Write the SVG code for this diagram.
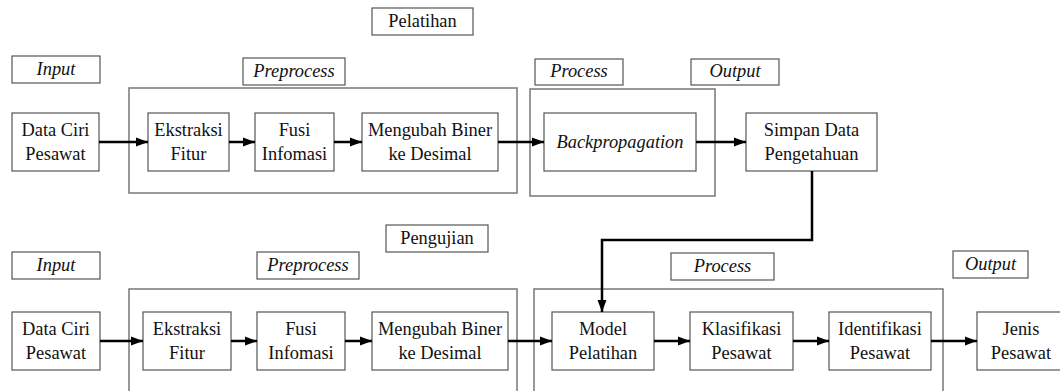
<svg xmlns="http://www.w3.org/2000/svg" width="1060" height="391" viewBox="0 0 1060 391">
<style>
.t{font-family:'Liberation Serif','Times New Roman',serif;font-size:18.4px;fill:#111;text-anchor:middle}
.it{font-style:italic}
.box{fill:#fff;stroke:#555;stroke-width:1.2}
.lab{fill:#fff;stroke:#555;stroke-width:1.2}
.cont{fill:none;stroke:#777;stroke-width:1.5}
.con{fill:none;stroke:#000;stroke-width:2.5}
</style>
<defs>
<marker id="ah" markerUnits="userSpaceOnUse" markerWidth="12" markerHeight="12" viewBox="0 0 12 12" refX="12" refY="6" orient="auto">
<path d="M0,1.5 L12,6 L0,10.5 Z" fill="#000"/>
</marker>
</defs>
<rect width="1060" height="391" fill="#fff"/>

<g id="containers">
<rect id="top-pre-cont" class="cont" x="129" y="88" width="388" height="105"/>
<rect id="top-proc-cont" class="cont" x="530" y="89" width="185" height="107"/>
<rect id="bot-pre-cont" class="cont" x="129" y="289" width="388" height="110"/>
<rect id="bot-proc-cont" class="cont" x="534" y="289" width="409" height="110"/>
</g>

<g id="all" font-family="Liberation Serif, serif" font-size="18.4" text-anchor="middle" fill="#111">
<g id="lbl-pelatihan"><rect class="lab" x="372" y="8" width="101" height="27"/><text class="t" x="422.5" y="27">Pelatihan</text></g>
<g id="lbl-input-top"><rect class="lab" x="12" y="56" width="88" height="27"/><text class="t it" x="56" y="75">Input</text></g>
<g id="lbl-pre-top"><rect class="lab" x="243" y="58" width="102" height="27"/><text class="t it" x="294" y="77">Preprocess</text></g>
<g id="lbl-proc-top"><rect class="lab" x="535" y="59" width="88" height="26"/><text class="t it" x="579" y="77">Process</text></g>
<g id="lbl-out-top"><rect class="lab" x="691" y="59" width="88" height="26"/><text class="t it" x="735" y="77">Output</text></g>
<g id="lbl-pengujian"><rect class="lab" x="386" y="225" width="102" height="27"/><text class="t" x="437" y="244">Pengujian</text></g>
<g id="lbl-input-bot"><rect class="lab" x="12" y="252" width="88" height="27"/><text class="t it" x="56" y="271">Input</text></g>
<g id="lbl-pre-bot"><rect class="lab" x="257" y="252" width="102" height="27"/><text class="t it" x="308" y="271">Preprocess</text></g>
<g id="lbl-proc-bot"><rect class="lab" x="671" y="253" width="103" height="27"/><text class="t it" x="722.5" y="272">Process</text></g>
<g id="lbl-out-bot"><rect class="lab" x="953" y="251" width="75" height="27"/><text class="t it" x="990.5" y="270">Output</text></g>

<g id="t-data"><rect class="box" x="12" y="113" width="87" height="58"/><text class="t" x="55.5" y="136">Data Ciri</text><text class="t" x="55.5" y="160">Pesawat</text></g>
<g id="t-ekstraksi"><rect class="box" x="148" y="113" width="81" height="58"/><text class="t" x="188.5" y="136">Ekstraksi</text><text class="t" x="188.5" y="160">Fitur</text></g>
<g id="t-fusi"><rect class="box" x="255" y="113" width="79" height="58"/><text class="t" x="294.5" y="136">Fusi</text><text class="t" x="294.5" y="160">Infomasi</text></g>
<g id="t-mengubah"><rect class="box" x="362" y="113" width="136" height="58"/><text class="t" x="430" y="136">Mengubah Biner</text><text class="t" x="430" y="160">ke Desimal</text></g>
<g id="t-backprop"><rect class="box" x="544" y="113" width="152" height="58"/><text class="t it" x="620" y="148">Backpropagation</text></g>
<g id="t-simpan"><rect class="box" x="746" y="113" width="131" height="58"/><text class="t" x="811.5" y="136">Simpan Data</text><text class="t" x="811.5" y="160">Pengetahuan</text></g>

<g id="b-data"><rect class="box" x="12" y="312" width="88" height="58"/><text class="t" x="56" y="335">Data Ciri</text><text class="t" x="56" y="359">Pesawat</text></g>
<g id="b-ekstraksi"><rect class="box" x="143" y="312" width="88" height="58"/><text class="t" x="187" y="335">Ekstraksi</text><text class="t" x="187" y="359">Fitur</text></g>
<g id="b-fusi"><rect class="box" x="257" y="312" width="88" height="58"/><text class="t" x="301" y="335">Fusi</text><text class="t" x="301" y="359">Infomasi</text></g>
<g id="b-mengubah"><rect class="box" x="372" y="312" width="136" height="58"/><text class="t" x="440" y="335">Mengubah Biner</text><text class="t" x="440" y="359">ke Desimal</text></g>
<g id="b-model"><rect class="box" x="552" y="312" width="102" height="58"/><text class="t" x="603" y="335">Model</text><text class="t" x="603" y="359">Pelatihan</text></g>
<g id="b-klasifikasi"><rect class="box" x="690" y="312" width="103" height="58"/><text class="t" x="741.5" y="335">Klasifikasi</text><text class="t" x="741.5" y="359">Pesawat</text></g>
<g id="b-identifikasi"><rect class="box" x="829" y="312" width="102" height="58"/><text class="t" x="880" y="335">Identifikasi</text><text class="t" x="880" y="359">Pesawat</text></g>
<g id="b-jenis"><rect class="box" x="977" y="312" width="88" height="58"/><text class="t" x="1021" y="335">Jenis</text><text class="t" x="1021" y="359">Pesawat</text></g>
</g>

<g id="connectors">
<line class="con" x1="99" y1="142" x2="148" y2="142" marker-end="url(#ah)"/>
<line class="con" x1="229" y1="142" x2="255" y2="142" marker-end="url(#ah)"/>
<line class="con" x1="334" y1="142" x2="362" y2="142" marker-end="url(#ah)"/>
<line class="con" x1="498" y1="142" x2="544" y2="142" marker-end="url(#ah)"/>
<line class="con" x1="696" y1="142" x2="746" y2="142" marker-end="url(#ah)"/>
<polyline class="con" points="812,171 812,240 602,240 602,312" marker-end="url(#ah)"/>
<line class="con" x1="100" y1="341" x2="143" y2="341" marker-end="url(#ah)"/>
<line class="con" x1="231" y1="341" x2="257" y2="341" marker-end="url(#ah)"/>
<line class="con" x1="345" y1="341" x2="372" y2="341" marker-end="url(#ah)"/>
<line class="con" x1="508" y1="341" x2="552" y2="341" marker-end="url(#ah)"/>
<line class="con" x1="654" y1="341" x2="690" y2="341" marker-end="url(#ah)"/>
<line class="con" x1="793" y1="341" x2="829" y2="341" marker-end="url(#ah)"/>
<line class="con" x1="931" y1="341" x2="977" y2="341" marker-end="url(#ah)"/>
</g>
</svg>
